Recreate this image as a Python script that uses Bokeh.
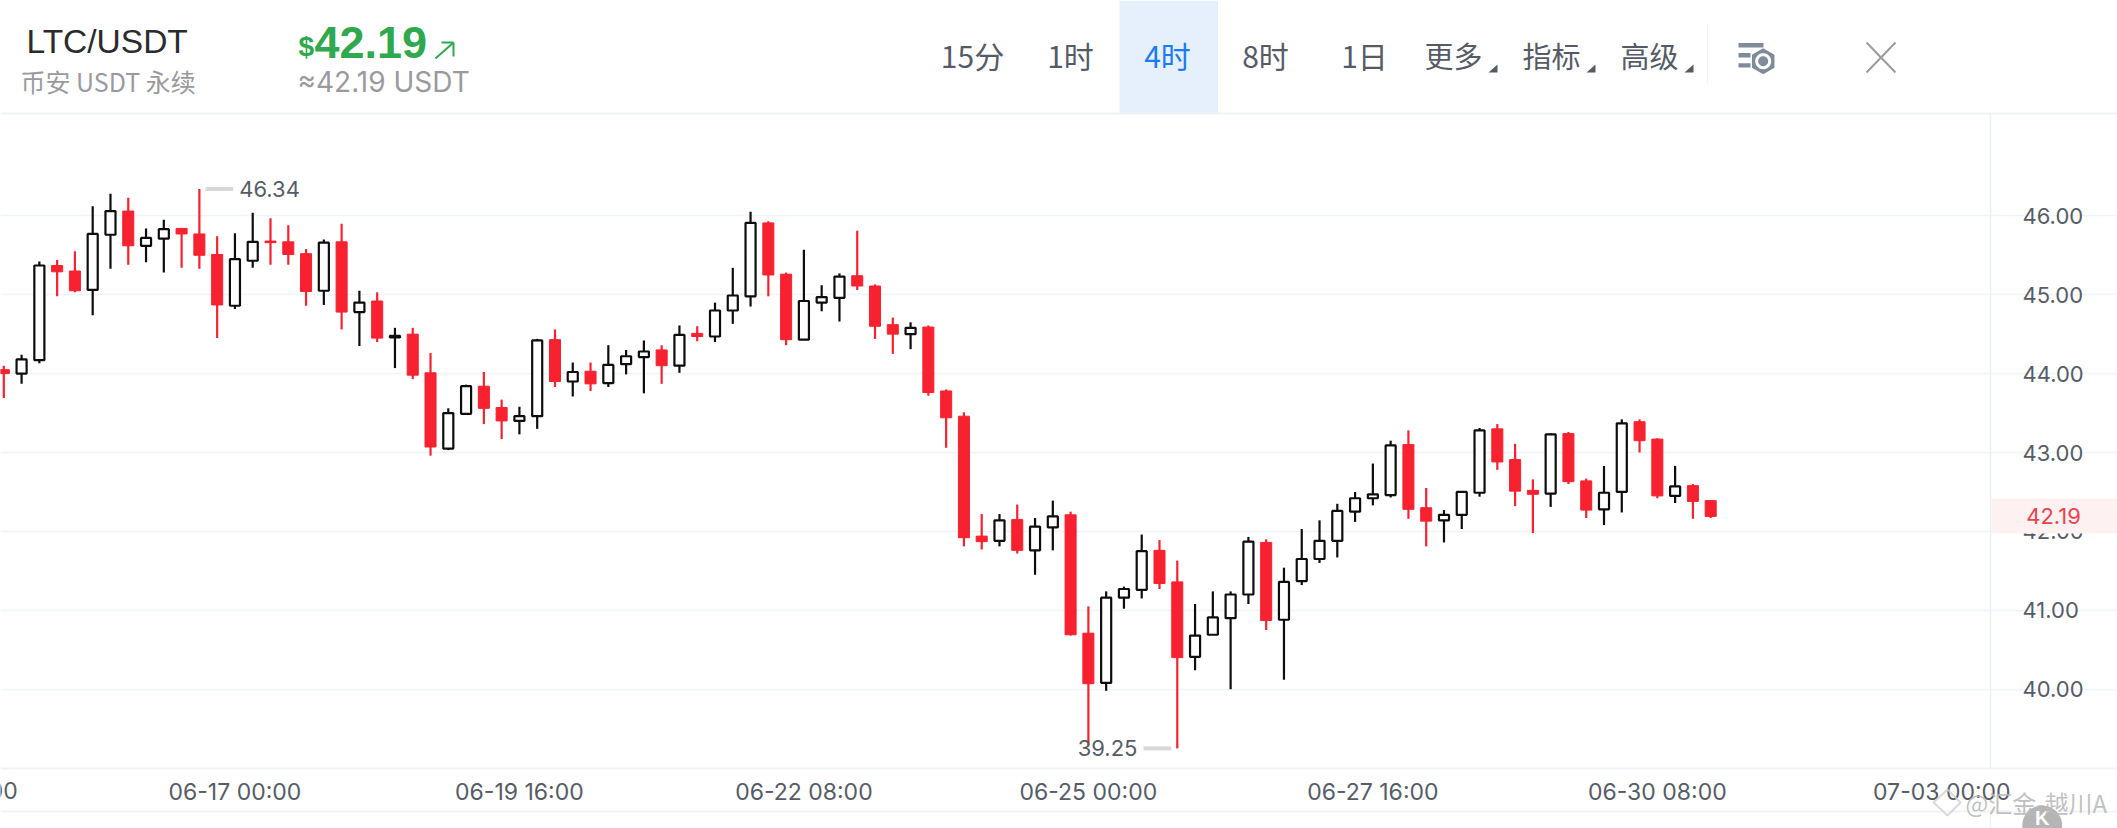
from bokeh.plotting import figure
from bokeh.embed import file_html
from bokeh.resources import INLINE
from bokeh.models import (BoxAnnotation, ColumnDataSource, FixedTicker, Label,
                          NumeralTickFormatter, PolyAnnotation, Range1d)
from bokeh.core.properties import value
import numpy as np

# ---------- data ----------
OPEN = [44.05,44.00,44.17,45.37,45.30,45.06,45.76,46.06,45.62,45.71,45.84,45.77,45.51,44.86,45.43,45.68,45.67,45.52,45.05,45.67,
        44.78,44.92,44.46,44.50,44.01,43.05,43.49,43.84,43.57,43.40,43.46,44.43,43.90,44.03,43.88,44.12,44.21,44.30,44.10,44.51,
        44.47,44.80,44.98,45.91,45.26,44.43,44.90,44.96,45.24,45.11,44.62,44.50,44.59,43.78,43.46,41.94,41.88,42.15,41.76,42.05,
        42.21,40.71,40.08,41.16,41.26,41.76,41.36,40.41,40.69,40.90,41.20,41.86,40.88,41.37,41.65,41.88,42.25,42.42,42.46,43.10,
        42.30,42.14,42.21,42.49,43.30,42.91,42.52,42.48,43.24,42.64,42.28,42.50,43.39,43.17,42.45,42.58,42.39]
HIGH = [44.10,44.24,45.42,45.44,45.55,46.12,46.28,46.23,45.84,45.95,45.84,46.34,45.74,45.78,46.04,45.97,45.88,45.58,45.70,45.90,
        45.05,45.03,44.58,44.58,44.26,43.56,43.86,44.02,43.67,43.58,44.44,44.56,44.14,44.14,44.36,44.30,44.42,44.36,44.61,44.60,
        44.90,45.34,46.05,45.93,45.28,45.57,45.12,45.27,45.81,45.13,44.71,44.65,44.61,43.80,43.51,42.22,42.22,42.34,42.17,42.39,
        42.25,41.05,41.24,41.30,41.96,41.89,41.63,41.08,41.24,41.24,41.93,41.90,41.54,42.03,42.14,42.35,42.50,42.86,43.15,43.28,
        42.55,42.27,42.51,43.31,43.36,43.11,42.66,43.24,43.26,42.67,42.83,43.42,43.42,43.18,42.83,42.60,42.39]
LOW = [43.69,43.87,44.13,44.98,45.03,44.74,45.33,45.38,45.41,45.28,45.34,45.33,44.45,44.82,45.34,45.38,45.38,44.86,44.87,44.56,
       44.35,44.40,44.07,43.93,42.96,43.03,43.49,43.36,43.17,43.23,43.30,43.83,43.71,43.78,43.83,43.99,43.75,43.87,44.01,44.41,
       44.40,44.63,44.85,44.98,44.36,44.43,44.79,44.66,45.06,44.44,44.25,44.31,43.72,43.06,41.81,41.77,41.81,41.72,41.45,41.76,
       40.68,39.29,39.98,41.02,41.15,41.27,39.25,40.24,40.69,40.00,41.08,40.75,40.12,41.32,41.60,41.67,42.12,42.33,42.43,42.16,
       41.81,41.86,42.03,42.44,42.78,42.32,41.98,42.31,42.60,42.17,42.08,42.24,43.00,42.42,42.36,42.16,42.17]
CLOSE = [44.00,44.18,45.37,45.29,45.05,45.77,46.06,45.62,45.72,45.83,45.77,45.50,44.87,45.45,45.67,45.66,45.51,45.04,45.66,44.78,
         44.90,44.45,44.48,43.98,43.07,43.50,43.84,43.56,43.40,43.46,44.42,43.90,44.02,43.87,44.11,44.22,44.28,44.10,44.49,44.47,
         44.80,44.99,45.91,45.25,44.43,44.92,44.97,45.23,45.11,44.60,44.50,44.58,43.76,43.44,41.92,41.87,42.14,41.76,42.06,42.19,
         40.69,40.07,41.16,41.27,41.75,41.34,40.40,40.68,40.91,41.20,41.87,40.87,41.36,41.65,41.88,42.26,42.42,42.47,43.09,42.28,
         42.13,42.21,42.50,43.28,42.88,42.51,42.47,43.23,42.63,42.27,42.49,43.37,43.15,42.45,42.57,42.38,42.19]
X_TICK_INDEX = [13, 29, 45, 61, 77, 93, 109]
X_TICK_LABELS = ["06-17 00:00", "06-19 16:00", "06-22 08:00", "06-25 00:00", "06-27 16:00", "06-30 08:00", "07-03 00:00"]
HIDDEN_TICK_INDEX = -3
HIDDEN_TICK_LABEL = "06-14 08:00"
Y_TICKS = [40, 41, 42, 43, 44, 45, 46]
LAST_PRICE = 42.19
MAX_PRICE = 46.34
MIN_PRICE = 39.25
TABS = ["15分", "1时", "4时", "8时", "1日", "更多", "指标", "高级"]

# ---------- layout (reference pixels) ----------
W, H = 2117, 828
FT, FB, FR = 113, 768, 1990        # top, bottom and right of the chart area
STEP = 17.78
X0 = 3.3
GRID46 = 215.3
UNIT = 78.9
SX = lambda x: x
SY = lambda y: H - y
RED = "#f7212f"
BLACK = "#0d0d0d"
GREY_TXT = "#565c66"
LIGHT = "#eff3f7"

o, h, l, c = map(np.array, (OPEN, HIGH, LOW, CLOSE))
idx = np.arange(len(o))
up = c >= o

# the frame fills the whole page so that furniture round the chart is not clipped;
# the axes sit on its edges and turn their labels inward with a negative standoff
p = figure(width=W, height=H, output_backend="svg", toolbar_location=None,
           x_range=Range1d(-X0 / STEP, (W - X0) / STEP),
           y_range=Range1d(46 - (H - GRID46) / UNIT, 46 + GRID46 / UNIT),
           y_axis_location="right", min_border_left=0, min_border_top=0,
           min_border_right=0, min_border_bottom=0,
           background_fill_color="white", border_fill_color="white")
p.outline_line_color = None
p.xgrid.visible = False
p.ygrid.grid_line_color = "#eef4fb"
p.ygrid.grid_line_width = 1.5
p.ygrid.ticker = FixedTicker(ticks=Y_TICKS)
p.ygrid.bounds = (-X0 / STEP, (FR - X0) / STEP)

ax = p.yaxis[0]
ax.ticker = FixedTicker(ticks=Y_TICKS)
ax.formatter = NumeralTickFormatter(format="0.00")
ax.axis_line_color = None
ax.major_tick_line_color = None
ax.minor_tick_line_color = None
ax.major_tick_out = 0
ax.major_tick_in = 0
ax.major_label_standoff = 2022 - W
ax.major_label_text_font = "Inter"
ax.major_label_text_font_size = "22px"
ax.major_label_text_color = GREY_TXT

bx = p.xaxis[0]
bx.ticker = FixedTicker(ticks=X_TICK_INDEX)
bx.major_label_overrides = dict(zip(X_TICK_INDEX, X_TICK_LABELS))
bx.axis_line_color = None
bx.major_tick_line_color = None
bx.minor_tick_line_color = None
bx.major_tick_out = 0
bx.major_tick_in = 0
bx.major_label_standoff = 777 - H
bx.major_label_text_font = "Inter"
bx.major_label_text_font_size = "23px"
bx.major_label_text_color = GREY_TXT

# ---------- candles ----------
for mask, col, fill, lw, w in ((~up, RED, RED, 1, 0.62), (up, BLACK, "white", 2.2, 0.565)):
    src = ColumnDataSource(dict(x=idx[mask], top=np.maximum(o, c)[mask], bottom=np.minimum(o, c)[mask],
                                high=h[mask], low=l[mask]))
    p.segment("x", "high", "x", "low", source=src, line_color=col, line_width=2.2)
    p.vbar("x", w, "top", "bottom", source=src, fill_color=fill, line_color=col, line_width=lw)

# ---------- max / min markers ----------
imax = int(np.argmax(h))
imin = int(np.argmin(l))
p.segment([imax + 0.34], [MAX_PRICE], [imax + 1.9], [MAX_PRICE], line_color="#d6d8db", line_width=4)
p.text([imax + 2.24], [MAX_PRICE], text=[f"{MAX_PRICE:.2f}"], text_font=value("Inter"), text_font_size="22px",
       text_color=GREY_TXT, text_align="left", text_baseline="middle")
p.segment([imin - 0.34], [MIN_PRICE], [imin - 1.9], [MIN_PRICE], line_color="#d6d8db", line_width=4)
p.text([imin - 2.24], [MIN_PRICE], text=[f"{MIN_PRICE:.2f}"], text_font=value("Inter"), text_font_size="22px",
       text_color=GREY_TXT, text_align="right", text_baseline="middle")


# ---------- helpers for page furniture ----------
def box(x0, x1, y0, y1, color, alpha=1.0):
    p.add_layout(BoxAnnotation(left=SX(x0), right=SX(x1), top=SY(y0), bottom=SY(y1),
                               left_units="screen", right_units="screen", top_units="screen", bottom_units="screen",
                               fill_color=color, fill_alpha=alpha, line_color=None))


def poly(xs, ys, fill=None, line=None, lw=1.0, alpha=1.0):
    p.add_layout(PolyAnnotation(xs=[SX(x) for x in xs], ys=[SY(y) for y in ys],
                                xs_units="screen", ys_units="screen",
                                fill_color=fill, fill_alpha=alpha if fill else 0,
                                line_color=line, line_width=lw, line_alpha=alpha if line else 0))


def text(x, y, s, size, color, font="Noto Sans CJK SC", style="normal", align="left", baseline="middle", alpha=1.0):
    p.add_layout(Label(x=SX(x), y=SY(y), x_units="screen", y_units="screen", text=s,
                       text_font=font, text_font_size=f"{size}px", text_font_style=style,
                       text_color=color, text_align=align, text_baseline=baseline, text_alpha=alpha))


# frame lines
box(1119, 1217.5, 0, FT, "#e6f0fd")
box(0, W, FT - 1, FT + 1, LIGHT)
box(1706.5, 1707.5, 25, 83, "#f3f3f3")
box(0, W, FB - 1, FB + 1, LIGHT)
box(0, W, 810, 812, LIGHT)
box(FR - 0.75, FR + 0.75, FT, FB, "#e9f0f8")
box(FR - 0.5, FR + 0.5, 812, H, "#e9f0f8")

# header
text(26, 41, "LTC/USDT", 33.5, "#2b2b2e", font="Liberation Sans")
text(20, 80, "币安 USDT 永续", 25, "#9a9a9e")
text(298, 46, "$", 28, "#2fa84f", font="Liberation Sans", style="bold")
text(314, 42, f"{LAST_PRICE:.2f}", 45, "#2fa84f", font="Liberation Sans", style="bold")
for xs, ys in (([435, 453], [58, 42]), ([441, 453], [42, 42]), ([453, 453], [42, 56])):
    poly(xs, ys, line="#2fa84f", lw=2)
text(297, 81, f"≈{LAST_PRICE:.2f} USDT", 28, "#9a9a9e", font="Inter")

TAB_CX = [972, 1070, 1167, 1265, 1364, 1453, 1551, 1649]
for s, cx in zip(TABS, TAB_CX):
    color = "#1a7bf2" if s == "4时" else "#555b66"
    size = 30 if s[0].isdigit() else 29
    text(cx, 54.5, s, size, color, align="center")
for tx in (1488, 1586, 1684):
    poly([tx, tx + 9, tx + 9], [72, 64, 72], fill="#555b66")

# settings icon
ICON = "#7f8a9b"
box(1738, 1763, 42.5, 47, ICON)
box(1738, 1750, 52.5, 57, ICON)
box(1738, 1750, 62.7, 67, ICON)
ang = np.deg2rad(np.arange(0, 360, 60) + 30)
poly(list(1762.7 + 13 * np.cos(ang)), list(60.7 + 13 * np.sin(ang)), fill=ICON)
t = np.linspace(0, 2 * np.pi, 40)
poly(list(1762.7 + 8 * np.cos(t)), list(60.7 + 8 * np.sin(t)), fill="white")
poly(list(1762.7 + 5 * np.cos(t)), list(60.7 + 5 * np.sin(t)), fill=ICON)
# close icon
poly([1866, 1895], [42, 72], line="#9b9b9b", lw=2)
poly([1895, 1866], [42, 72], line="#9b9b9b", lw=2)

# last price tag
box(FR + 1, W, 498, 533, "#fdf1f1")
p.add_layout(Label(x=SX(2053), y=LAST_PRICE, x_units="screen", y_units="data", text=f"{LAST_PRICE:.2f}",
                   text_font="Inter", text_font_size="22px", text_color="#e8434f",
                   text_align="center", text_baseline="middle"))

# tick that falls off the left edge of the view
p.add_layout(Label(x=HIDDEN_TICK_INDEX, y=SY(790), x_units="data", y_units="screen", text=HIDDEN_TICK_LABEL,
                   text_font="Inter", text_font_size="23px", text_color=GREY_TXT,
                   text_align="center", text_baseline="middle"))

# watermark
poly(list(2041.7 + 20 * np.cos(t)), list(825 + 20 * np.sin(t)), fill="#b5b5b5")
text(2041.7, 817, "K", 20, "white", font="Liberation Sans", style="bold", align="center")
poly([1933, 1947, 1960, 1947], [802, 789, 802, 815], line="#cfcfcf", lw=2, alpha=0.8)
text(1965, 802, "@汇金-越川A", 24, "#b9b9b9", alpha=0.9)

open("out.html", "w").write(file_html(p, INLINE))
